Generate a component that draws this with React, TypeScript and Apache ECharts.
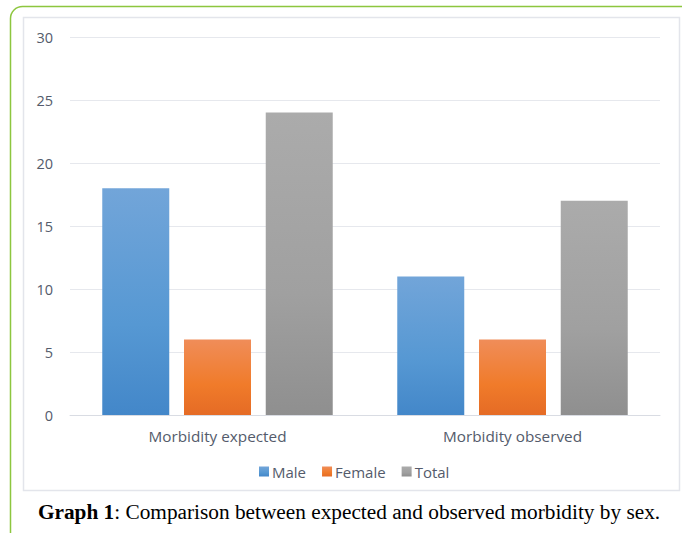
import React, { useEffect, useRef } from "react";
import * as echarts from "echarts";

const categories = ["Morbidity expected", "Morbidity observed"];
const maleValues = [18, 11];
const femaleValues = [6, 6];
const totalValues = [24, 17];
const yTicks = { min: 0, max: 30, interval: 5 };

const grad = (top: string, mid: string, bottom: string) =>
  new echarts.graphic.LinearGradient(0, 0, 0, 1, [
    { offset: 0, color: top },
    { offset: 0.6, color: mid },
    { offset: 1, color: bottom },
  ]);

export default function App() {
  const ref = useRef<HTMLDivElement>(null);
  useEffect(() => {
    document.body.style.margin = "0";
    const chart = echarts.init(ref.current!, null, { renderer: "svg" });
    const textColor = "#545b6b";
    const font = "'Open Sans', 'Noto Sans', sans-serif";
    chart.setOption({
      animation: false,
      backgroundColor: "#ffffff",
      graphic: [
        {
          type: "rect",
          silent: true,
          z: -10,
          shape: { x: 10.5, y: 6.5, width: 700, height: 600, r: 12 },
          style: { fill: "#ffffff", stroke: "#8dc63f", lineWidth: 1.5 },
        },
        {
          type: "rect",
          silent: true,
          z: -9,
          shape: { x: 23.5, y: 17.5, width: 656, height: 473 },
          style: { fill: "#ffffff", stroke: "#e3e5eb", lineWidth: 1.5 },
        },
        {
          type: "text",
          x: 349,
          y: 512,
          style: {
            text: "{b|Graph 1}: Comparison between expected and observed morbidity by sex.",
            fontFamily: "'Liberation Serif', 'Times New Roman', serif",
            fontSize: 21.3,
            fill: "#000000",
            align: "center",
            verticalAlign: "middle",
            rich: {
              b: {
                fontWeight: "bold",
                fontFamily: "'Liberation Serif', 'Times New Roman', serif",
                fontSize: 21.3,
                fill: "#000000",
              },
            },
          },
        },
      ],
      grid: { left: 70, right: 22, top: 37, bottom: 118, containLabel: false },
      legend: {
        left: 254,
        top: 459,
        itemWidth: 10,
        itemHeight: 10,
        itemGap: 16,
        icon: "rect",
        textStyle: { color: textColor, fontSize: 15, fontFamily: font, padding: [0, 0, 0, -2] },
        data: ["Male", "Female", "Total"],
      },
      xAxis: {
        type: "category",
        data: categories,
        axisLine: { lineStyle: { color: "#d9dce3", width: 1 } },
        axisTick: { show: false },
        axisLabel: { color: textColor, fontSize: 15.3, fontFamily: font, margin: 13 },
      },
      yAxis: {
        type: "value",
        min: yTicks.min,
        max: yTicks.max,
        interval: yTicks.interval,
        axisLine: { show: false },
        axisTick: { show: false },
        axisLabel: { color: textColor, fontSize: 14.5, fontFamily: font, margin: 17 },
        splitLine: { lineStyle: { color: "#e6e8ed", width: 1 } },
      },
      series: [
        {
          name: "Male",
          type: "bar",
          data: maleValues,
          barWidth: 67,
          barGap: "22%",
          barCategoryGap: "22%",
          itemStyle: { color: grad("#72a5d9", "#5698d3", "#4387c9") },
        },
        {
          name: "Female",
          type: "bar",
          data: femaleValues,
          barWidth: 67,
          itemStyle: { color: grad("#f08d59", "#f07b2a", "#e56b25") },
        },
        {
          name: "Total",
          type: "bar",
          data: totalValues,
          barWidth: 67,
          itemStyle: { color: grad("#ababab", "#a0a0a0", "#8f8f8f") },
        },
      ],
    });
    return () => chart.dispose();
  }, []);
  return <div ref={ref} style={{ width: 682, height: 533 }} />;
}
